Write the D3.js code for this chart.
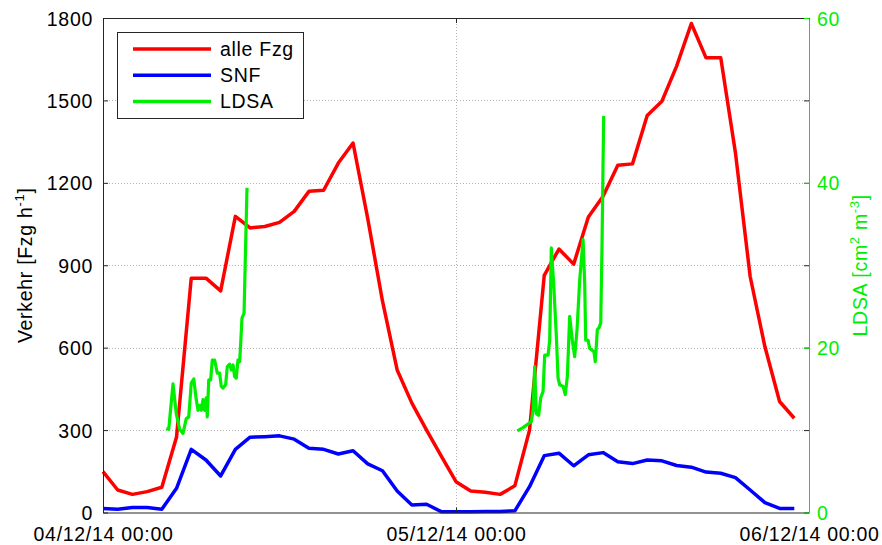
<!DOCTYPE html>
<html>
<head>
<meta charset="utf-8">
<script src="https://cdn.jsdelivr.net/npm/d3@7"></script>
<style>
  body { margin: 0; background: #fff; }
  text { font-family: "Liberation Sans", Arial, sans-serif; }
</style>
</head>
<body>
<div id="chart"></div>
<script>
// hourly traffic counts, 04/12/14 00:00 .. 05/12/14 23:00
var hours = d3.range(0, 48);
var alleFzg = [149, 82, 66, 76, 92, 275, 853, 853, 807, 1078, 1036, 1041, 1056, 1096, 1169, 1173, 1272, 1345, 1070, 770, 519, 398, 300, 205,
  112, 78, 74, 66, 97, 300, 863, 959, 904, 1076, 1151, 1264, 1269, 1445, 1497, 1625, 1780, 1655, 1655, 1309, 859, 604, 404, 343];
var snf = [15, 12, 18, 18, 12, 88, 230, 191, 133, 230, 274, 276, 279, 267, 234, 230, 213, 225, 177, 152, 78, 27, 30, 3,
  3, 3, 4, 4, 6, 94, 207, 216, 170, 210, 218, 185, 178, 191, 188, 171, 165, 147, 143, 127, 82, 36, 15, 15];

// LDSA measurements (hours after 04/12/14 00:00)
var ldsaHours1 = [4.30, 4.47, 4.76, 4.98, 5.21, 5.44, 5.66, 5.83, 6.00, 6.17, 6.34, 6.46, 6.57, 6.68, 6.80, 6.91, 7.02, 7.09, 7.19, 7.32,
  7.43, 7.59, 7.77, 7.93, 8.04, 8.16, 8.34, 8.45, 8.61, 8.72, 8.84, 8.95, 9.06, 9.18, 9.29, 9.36, 9.45, 9.59, 9.67, 9.79];
var ldsaValues1 = [10.2, 10.1, 15.6, 12.0, 10.1, 9.6, 11.4, 11.6, 15.7, 16.2, 13.7, 12.4, 13.0, 12.4, 13.7, 12.4, 13.9, 11.6, 16.1, 16.1,
  18.5, 18.5, 16.9, 16.9, 15.3, 15.1, 15.5, 17.7, 18.0, 17.3, 17.9, 16.5, 16.3, 18.5, 18.3, 20.5, 23.6, 24.2, 30.3, 39.4];
var ldsaHours2 = [28.17, 28.56, 28.94, 29.12, 29.24, 29.35, 29.46, 29.62, 29.76, 29.92, 30.03, 30.26, 30.37, 30.48, 30.64, 30.82, 30.94, 31.05, 31.28, 31.43,
  31.57, 31.73, 31.91, 32.07, 32.23, 32.41, 32.64, 32.75, 32.82, 32.98, 33.09, 33.25, 33.38, 33.47, 33.61, 33.72, 33.84, 33.93, 34.04];
var ldsaValues2 = [9.9, 10.3, 10.8, 11.0, 12.4, 17.7, 12.0, 11.8, 13.9, 14.7, 19.1, 19.1, 20.9, 32.1, 27.8, 21.5, 16.3, 15.5, 15.3, 14.3,
  16.5, 23.8, 20.9, 18.9, 22.2, 28.2, 33.1, 27.8, 20.9, 20.9, 19.9, 19.7, 19.5, 18.3, 22.2, 22.4, 23.0, 32.7, 48.1];

var xTicks = ["04/12/14 00:00", "05/12/14 00:00", "06/12/14 00:00"];
var leftTicks = [0, 300, 600, 900, 1200, 1500, 1800];
var rightTicks = [0, 20, 40, 60];
var legendLabels = ["alle Fzg", "SNF", "LDSA"];
var colors = ["#ff0000", "#0000ff", "#00ee00"];

(function(){
  var width = 882, height = 545;
  var mLeft = 103, mRight = 809, mTop = 18, mBottom = 512.5;
  var fontSize = "19.5px", spacing = "0.7px";

  var parse = d3.timeParse("%d/%m/%y %H:%M");
  var t0 = parse(xTicks[0]);
  function toDate(h) { return new Date(t0.getTime() + h * 3600e3); }

  var x = d3.scaleTime().domain([t0, parse(xTicks[2])]).range([mLeft, mRight]);
  var yL = d3.scaleLinear().domain([0, 1800]).range([mBottom, mTop]);
  var yR = d3.scaleLinear().domain([0, 60]).range([mBottom, mTop]);

  var svg = d3.select("#chart").append("svg")
    .attr("width", width)
    .attr("height", height);

  // dotted grid
  var grid = svg.append("g").attr("stroke", "#b4b4b4").attr("stroke-width", 1).attr("stroke-dasharray", "1,2");
  grid.selectAll(".hg").data(leftTicks.slice(1, -1)).enter().append("line")
    .attr("x1", mLeft).attr("x2", mRight)
    .attr("y1", function(d) { return Math.round(yL(d)) + 0.5; })
    .attr("y2", function(d) { return Math.round(yL(d)) + 0.5; });
  var xMid = Math.round(x(parse(xTicks[1]))) + 0.5;
  grid.append("line")
    .attr("x1", xMid).attr("x2", xMid)
    .attr("y1", mTop).attr("y2", mBottom);

  var line = d3.line()
    .x(function(d) { return x(toDate(d[0])); })
    .y(function(d) { return d[2](d[1]); });

  function pairs(hs, vs, sc) { return hs.map(function(h, i) { return [h, vs[i], sc]; }); }

  svg.append("path").datum(pairs(hours, alleFzg, yL))
    .attr("d", line).attr("fill", "none").attr("stroke", colors[0]).attr("stroke-width", 3.5).attr("stroke-linejoin", "round");
  svg.append("path").datum(pairs(hours, snf, yL))
    .attr("d", line).attr("fill", "none").attr("stroke", colors[1]).attr("stroke-width", 3.5).attr("stroke-linejoin", "round");
  [[ldsaHours1, ldsaValues1], [ldsaHours2, ldsaValues2]].forEach(function(s) {
    svg.append("path").datum(pairs(s[0], s[1], yR))
      .attr("d", line).attr("fill", "none").attr("stroke", colors[2]).attr("stroke-width", 3.2).attr("stroke-linejoin", "round");
  });

  // axes (ticks inward, box all round)
  var leftAxis = svg.append("g")
    .attr("transform", "translate(" + mLeft + ",0)")
    .call(d3.axisLeft(yL).tickValues(leftTicks).tickFormat(d3.format("d")).tickSize(-5).tickPadding(10).tickSizeOuter(0));
  var rightMirror = svg.append("g")
    .attr("transform", "translate(" + mRight + ",0)")
    .call(d3.axisRight(yL).tickValues(leftTicks).tickSize(-5).tickFormat("").tickSizeOuter(0));
  var bottomAxis = svg.append("g")
    .attr("transform", "translate(0," + mBottom + ")")
    .call(d3.axisBottom(x).tickValues(xTicks.map(parse)).tickSize(-5).tickPadding(14).tickSizeOuter(0)
      .tickFormat(d3.timeFormat("%d/%m/%y %H:%M")));
  var topAxis = svg.append("g")
    .attr("transform", "translate(0," + mTop + ")")
    .call(d3.axisTop(x).tickValues(xTicks.map(parse)).tickSize(-5).tickFormat("").tickSizeOuter(0));
  var rightAxis = svg.append("g")
    .attr("transform", "translate(" + mRight + ",0)")
    .call(d3.axisRight(yR).tickValues(rightTicks).tickFormat(d3.format("d")).tickSize(-5).tickPadding(8).tickSizeOuter(0));

  [leftAxis, rightMirror, bottomAxis, topAxis].forEach(function(a) {
    a.selectAll("path, line").attr("stroke", "#262626");
    a.selectAll("text").attr("fill", "#000").style("font-size", fontSize).style("letter-spacing", spacing);
  });
  leftAxis.selectAll("text").attr("dy", "0.36em");
  bottomAxis.selectAll("text").attr("dy", "0.72em");
  rightAxis.selectAll("path, line").attr("stroke", "#00ee00");
  rightAxis.selectAll("text").attr("fill", "#00ee00").style("font-size", fontSize).style("letter-spacing", spacing).attr("dy", "0.36em");

  // axis titles
  var yTitle = svg.append("text")
    .attr("transform", "translate(32," + (mTop + mBottom) / 2 + ") rotate(-90)")
    .attr("text-anchor", "middle")
    .style("font-size", fontSize).style("letter-spacing", spacing);
  yTitle.append("tspan").text("Verkehr [Fzg h");
  yTitle.append("tspan").attr("dy", -8).style("font-size", "13px").text("-1");
  yTitle.append("tspan").attr("dy", 8).text("]");

  var rTitle = svg.append("text")
    .attr("transform", "translate(867," + (mTop + mBottom) / 2 + ") rotate(-90)")
    .attr("text-anchor", "middle")
    .attr("fill", "#00ee00")
    .style("font-size", fontSize).style("letter-spacing", spacing);
  rTitle.append("tspan").text("LDSA [cm");
  rTitle.append("tspan").attr("dy", -8).style("font-size", "13px").text("2");
  rTitle.append("tspan").attr("dy", 8).text(" m");
  rTitle.append("tspan").attr("dy", -8).style("font-size", "13px").text("-3");
  rTitle.append("tspan").attr("dy", 8).text("]");

  // legend
  var legend = svg.append("g");
  legend.append("rect")
    .attr("x", 117.5).attr("y", 32.5).attr("width", 186).attr("height", 86)
    .attr("fill", "#fff").attr("stroke", "#262626");
  var rows = legend.selectAll(".row").data(legendLabels).enter().append("g")
    .attr("transform", function(d, i) { return "translate(0," + (49 + i * 26.2) + ")"; });
  rows.append("line")
    .attr("x1", 133).attr("x2", 211)
    .attr("stroke", function(d, i) { return colors[i]; })
    .attr("stroke-width", 3.5);
  rows.append("text")
    .attr("x", 220).attr("dy", "0.36em")
    .style("font-size", fontSize).style("letter-spacing", spacing)
    .text(function(d) { return d; });
})();
</script>
</body>
</html>
